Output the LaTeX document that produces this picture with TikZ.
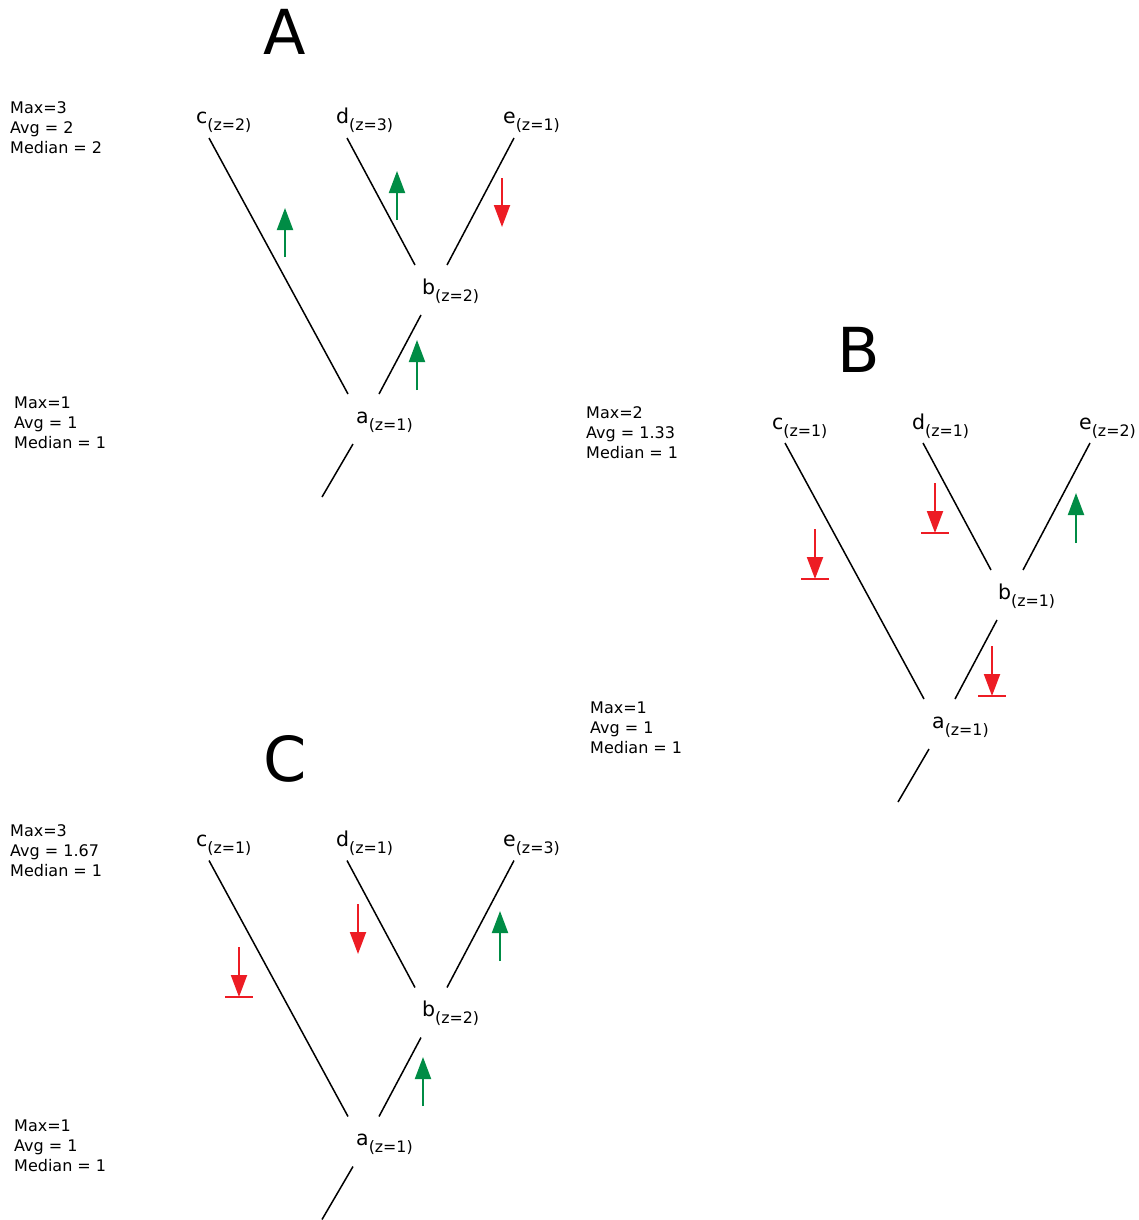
\documentclass[tikz,border=0pt]{standalone}
\usepackage{fontspec}
\setmainfont{DejaVu Sans}
\usetikzlibrary{arrows.meta}
\definecolor{upgreen}{RGB}{0,140,69}
\definecolor{downred}{RGB}{237,28,36}

\tikzset{
  branch/.style={line width=1.5pt, black},
  gain/.style={upgreen, line width=2pt, -{Triangle[width=16pt,length=22pt]}},
  loss/.style={downred, line width=2pt, -{Triangle[width=16pt,length=22pt]}},
  blockbar/.style={downred, line width=2.2pt},
  taxon/.style={anchor=base west, inner sep=0pt, font=\fontsize{20.5}{24}\selectfont},
  stat/.style={anchor=base west, inner sep=0pt, font=\fontsize{16}{20}\selectfont},
  paneltitle/.style={anchor=base, inner sep=0pt, font=\fontsize{62}{70}\selectfont},
}

% lowered z-value subscript after a taxon letter
\newcommand\zsub[1]{\raisebox{-7pt}{\fontsize{15.8}{18}\selectfont (z=#1)}}

% one tree: #1 prefix, #2..#6 = z of a, b, c, d, e
\newcommand\phylo[6]{%
  \node[taxon] (#1c) at (196,124) {c\zsub{#4}};
  \node[taxon] (#1d) at (336,124) {d\zsub{#5}};
  \node[taxon] (#1e) at (503,124) {e\zsub{#6}};
  \node[taxon] (#1b) at (422,294) {b\zsub{#3}};
  \node[taxon] (#1a) at (356,423) {a\zsub{#2}};
  \coordinate (#1cTop) at (209,138);  \coordinate (#1cBot) at (348,394);
  \coordinate (#1dTop) at (347,138);  \coordinate (#1dBot) at (415,265);
  \coordinate (#1eTop) at (514,138);  \coordinate (#1eBot) at (447,265);
  \coordinate (#1bBot) at (379,394);  \coordinate (#1bTop) at (421,315);
  \coordinate (#1rTop) at (353,444);  \coordinate (#1rBot) at (322,497);
  \draw[branch] (#1cTop) -- (#1cBot);
  \draw[branch] (#1dTop) -- (#1dBot);
  \draw[branch] (#1eTop) -- (#1eBot);
  \draw[branch] (#1bTop) -- (#1bBot);
  \draw[branch] (#1rTop) -- (#1rBot);
}

% three-line statistics block: #1 prefix, (#2,#3) first baseline
\newcommand\stats[6]{%
  \node[stat] (#1max) at (#2,#3) {Max=#4};
  \node[stat] (#1avg) at (#2,#3+20) {Avg = #5};
  \node[stat] (#1med) at (#2,#3+40) {Median = #6};
}

\newcommand\gainarrow[4]{%
  \coordinate (#1s) at (#2,#3); \coordinate (#1t) at (#2,#4);
  \draw[gain] (#1s) -- (#1t);}
\newcommand\lossarrow[4]{%
  \coordinate (#1s) at (#2,#3); \coordinate (#1t) at (#2,#4);
  \draw[loss] (#1s) -- (#1t);}
\newcommand\blockarrow[4]{%
  \coordinate (#1s) at (#2,#3); \coordinate (#1t) at (#2,#4);
  \draw[loss] (#1s) -- (#1t);
  \draw[blockbar] ([xshift=-14pt]#1t) -- ([xshift=14pt]#1t);}

\begin{document}
\begin{tikzpicture}[x=1pt, y=-1pt]
  \fill[white] (0,0) rectangle (1139,1220);
  \useasboundingbox (0,0) rectangle (1139,1220);

  % panel titles
  \node[paneltitle] (titleA) at (285,55) {A};
  \node[paneltitle] (titleB) at (859,372) {B};
  \node[paneltitle] (titleC) at (285,781) {C};

  % panel A
  \phylo{A}{1}{2}{2}{3}{1}
  \stats{Atop}{10}{113.5}{3}{2}{2}
  \stats{Abot}{14}{408.5}{1}{1}{1}
  \gainarrow{Aga}{285}{257}{208}
  \gainarrow{Agb}{397}{220}{171}
  \lossarrow{Ala}{502}{178}{227}
  \gainarrow{Agc}{417}{390}{340}

  % panel B
  \begin{scope}[shift={(576,305)}]
    \phylo{B}{1}{1}{1}{1}{2}
    \stats{Btop}{10}{113.5}{2}{1.33}{1}
    \stats{Bbot}{14}{408.5}{1}{1}{1}
  \end{scope}
  \blockarrow{Bba}{815}{529}{579}
  \blockarrow{Bbb}{935}{483}{533}
  \gainarrow{Bga}{1076}{543}{493}
  \blockarrow{Bbc}{992}{646}{696}

  % panel C
  \begin{scope}[shift={(0,722.5)}]
    \phylo{C}{1}{2}{1}{1}{3}
    \stats{Ctop}{10}{113.5}{3}{1.67}{1}
    \stats{Cbot}{14}{408.5}{1}{1}{1}
  \end{scope}
  \blockarrow{Cba}{239}{947}{997}
  \lossarrow{Cla}{358}{904}{954}
  \gainarrow{Cga}{500}{961}{911}
  \gainarrow{Cgb}{423}{1106}{1057}
\end{tikzpicture}
\end{document}
